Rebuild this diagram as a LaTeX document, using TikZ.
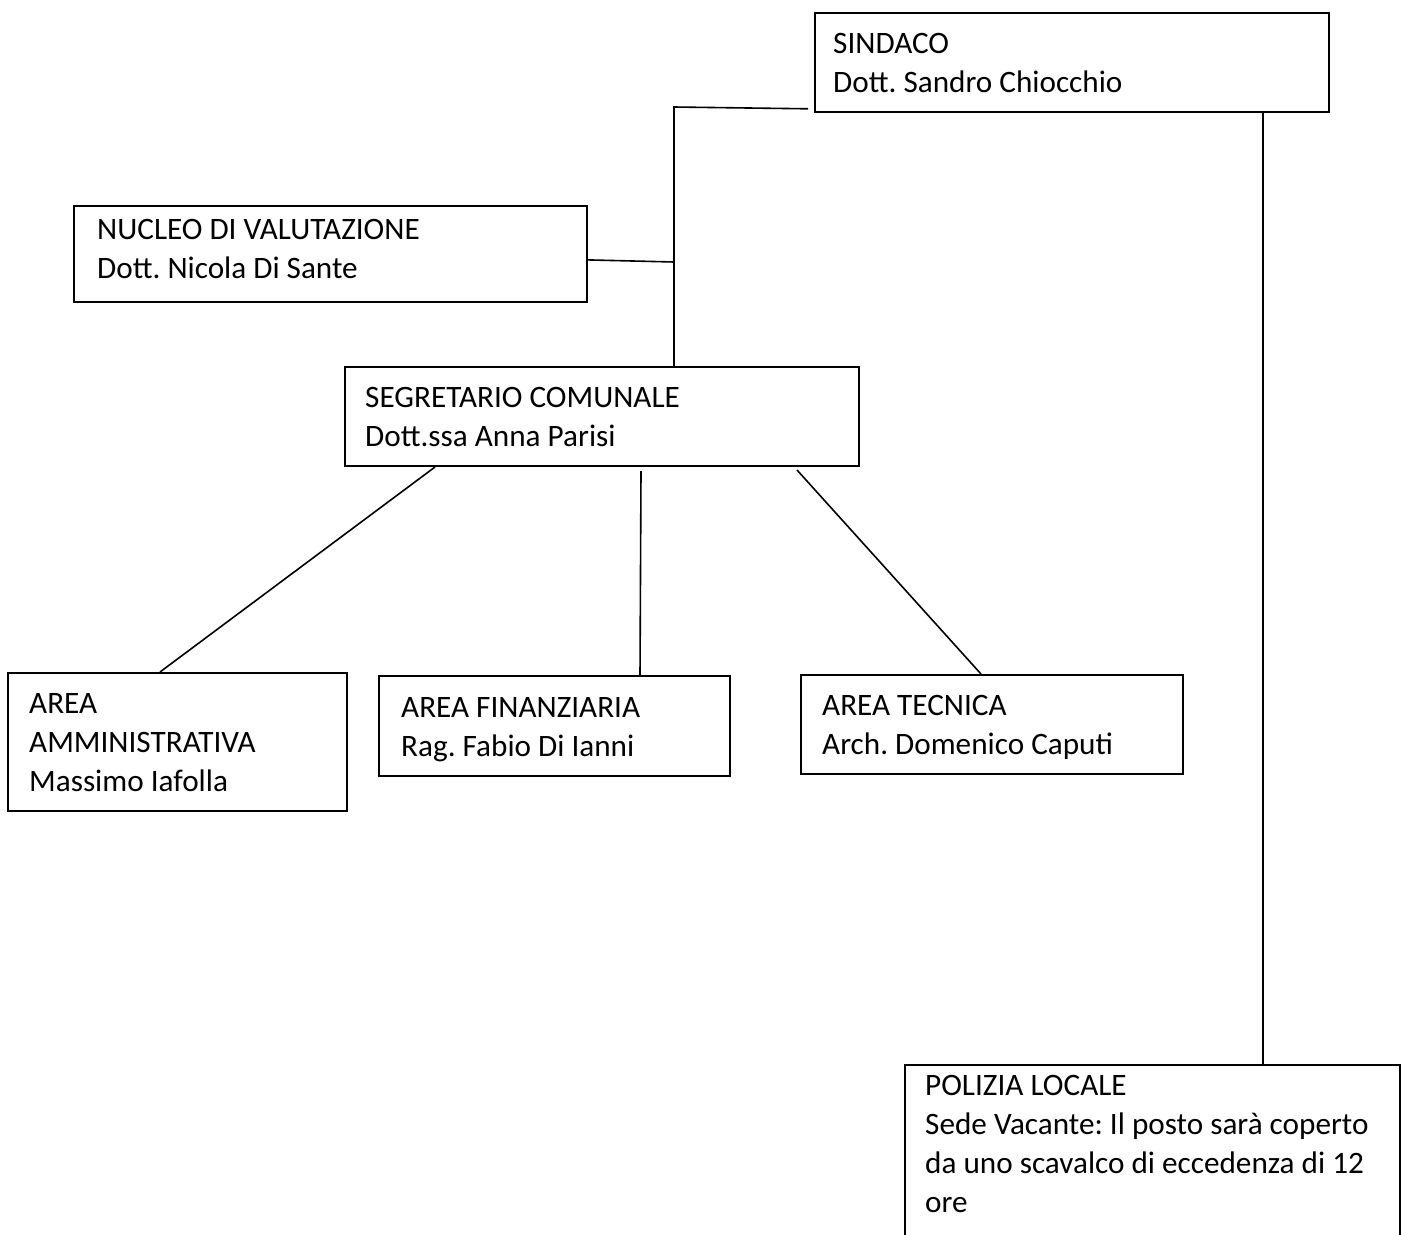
\documentclass[tikz,border=0pt]{standalone}
\usepackage{fontspec}
\setmainfont{Carlito}
\usetikzlibrary{calc}
\frenchspacing
\begin{document}
\begin{tikzpicture}[x=1pt,y=-1pt,
  box/.style={draw=black,line width=1.8pt,rectangle,inner sep=0pt,anchor=north west},
  txt/.style={anchor=base west,inner sep=0pt,align=left,font=\fontsize{31.2}{39}\selectfont},
  conn/.style={draw=black,line width=1.6pt}]
\useasboundingbox (0,0) rectangle (1423,1234);
\clip (0,0) rectangle (1423,1234);
\fill[white] (0,0) rectangle (1423,1234);
% boxes
\node[box,minimum width=514pt,minimum height=99pt] (sind) at (814,12) {};
\node[box,minimum width=513pt,minimum height=96pt] (nuc) at (73,205) {};
\node[box,minimum width=514pt,minimum height=99pt] (seg) at (344,366) {};
\node[box,minimum width=339pt,minimum height=138pt] (amm) at (7,672) {};
\node[box,minimum width=351pt,minimum height=100pt] (fin) at (378,675) {};
\node[box,minimum width=382pt,minimum height=99pt] (tec) at (800,674) {};
\node[box,minimum width=495pt,minimum height=200pt] (pol) at (904,1064) {};
% texts (anchored at the baseline of their last line)
\node[txt] (sindt) at (833,92) {SINDACO\\Dott. Sandro Chiocchio};
\node[txt] (nuct) at (97,278) {NUCLEO DI VALUTAZIONE\\Dott. Nicola Di Sante};
\node[txt] (segt) at (365,446) {SEGRETARIO COMUNALE\\Dott.ssa Anna Parisi};
\node[txt] (ammt) at (29,791) {AREA\\AMMINISTRATIVA\\Massimo Iafolla};
\node[txt] (fint) at (401,756) {AREA FINANZIARIA\\Rag. Fabio Di Ianni};
\node[txt] (tect) at (822,754) {AREA TECNICA\\Arch. Domenico Caputi};
\node[txt] (polt) at (925,1212) {POLIZIA LOCALE\\Sede Vacante: Il posto sarà coperto\\da uno scavalco di eccedenza di 12\\ore};
% connectors
\coordinate (s1) at ($(sind.south west)+(-6,-4)$);
\coordinate (jn) at (674,107);
\draw[conn] (s1) -- (jn) -- (jn |- seg.north);
\coordinate (nj) at (674,262);
\draw[conn] ($(nuc.east)+(0,6)$) -- (nj);
\draw[conn] (435,467) -- (160,672);
\draw[conn] (641,471) -- (640,675);
\draw[conn] (797,470) -- (981,674);
\draw[conn] (1263,111) -- (1263,1064);
\end{tikzpicture}
\end{document}
